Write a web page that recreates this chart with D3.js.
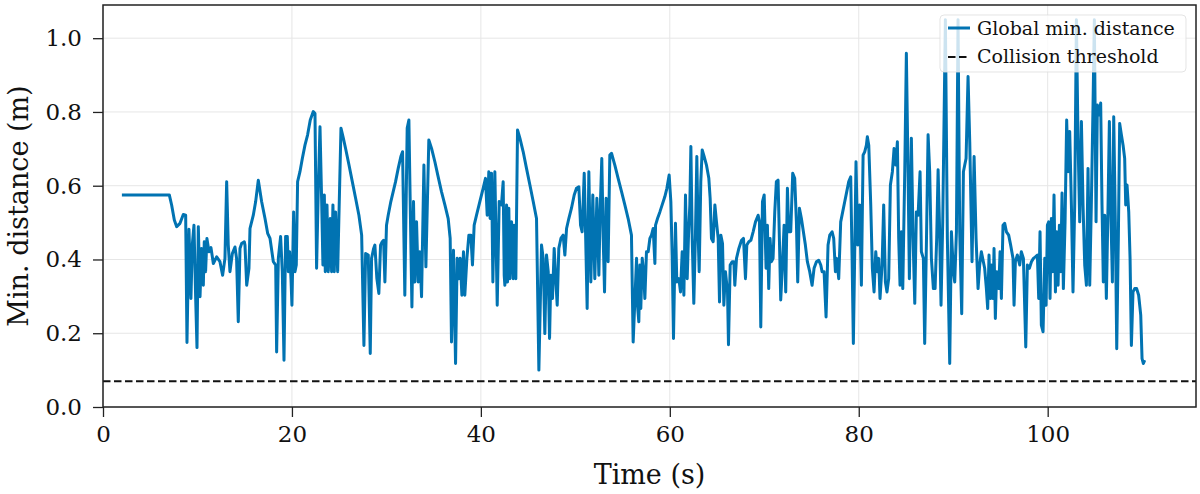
<!DOCTYPE html>
<html>
<head>
<meta charset="utf-8">
<script src="https://cdn.jsdelivr.net/npm/d3@7"></script>
<style>
  body { margin: 0; background: #fff; }
  svg { display: block; }
  text { font-family: "DejaVu Serif", serif; fill: #111; }
</style>
</head>
<body>
<div id="chart"></div>
<script>
// time stamps (s) and global minimum distance (m)
var times = [
  2.0, 7.02, 7.27, 7.55, 7.8, 8.15, 8.5, 8.75, 8.89, 9.1, 9.31, 9.45, 9.63, 9.81, 9.95, 10.09, 10.27, 10.44, 10.62, 10.72,
  10.86, 11.0, 11.22, 11.43, 11.68, 12.03, 12.38, 12.66, 12.91, 13.09, 13.26, 13.44, 13.69, 13.97, 14.14, 14.32, 14.5, 14.67, 14.96,
  15.03, 15.21, 15.45, 15.56, 15.91, 16.16, 16.44, 16.79, 17.15, 17.43, 17.68, 18.03, 18.28, 18.38, 18.56, 18.8, 18.98, 19.16,
  19.33, 19.51, 19.62, 19.76, 19.9, 20.0, 20.18, 20.32, 20.46, 20.6, 20.85, 21.1, 21.38, 21.66, 21.94, 22.26, 22.44, 22.61,
  22.79, 22.97, 23.14, 23.28, 23.43, 23.53, 23.71, 23.85, 24.06, 24.2, 24.34, 24.48, 24.62, 24.84, 25.19, 25.44, 25.68, 26.04,
  26.39, 26.74, 27.09, 27.38, 27.62, 27.8, 28.08, 28.29, 28.43, 28.65,
  28.78, 28.99, 29.2, 29.38, 29.56, 29.7, 29.84, 30.01, 30.19, 30.47, 30.72, 30.97, 31.25, 31.53, 31.71, 31.95, 32.2, 32.38,
  32.59, 32.7, 32.87, 33.01, 33.19, 33.37, 33.54, 33.72, 33.97, 34.18, 34.49, 34.78, 35.13, 35.48, 35.83, 36.19, 36.54, 36.75,
  36.89, 37.1, 37.32, 37.49, 37.67, 37.81, 37.99, 38.16, 38.3, 38.52, 38.73, 38.94, 39.11, 39.29, 39.54, 39.89, 40.24, 40.49,
  40.67, 40.84, 40.98, 41.13, 41.27, 41.48, 41.73, 41.94, 42.18, 42.36, 42.47,
  42.54, 42.72, 42.82, 42.96, 43.07, 43.25, 43.42, 43.53, 43.7, 43.88, 44.13, 44.48, 44.83, 45.19, 45.54, 45.89, 46.14, 46.42,
  46.6, 46.77, 46.95, 47.13, 47.27, 47.41, 47.58, 47.76, 47.94, 48.08, 48.25, 48.47, 48.71, 48.89, 49.07, 49.31, 49.59, 49.88,
  50.12, 50.37, 50.55, 50.72, 50.94, 51.08, 51.25, 51.43, 51.64, 51.85, 52.06, 52.28, 52.49, 52.63, 52.8, 52.95, 53.09, 53.26,
  53.47, 53.65, 53.83, 54.18, 54.53, 54.89, 55.24, 55.59, 55.94, 56.12,
  56.48, 56.58, 56.72, 56.83, 56.93, 57.08, 57.22, 57.36, 57.53, 57.71, 57.89, 58.06, 58.24, 58.42, 58.49, 58.7, 58.95, 59.19,
  59.47, 59.69, 59.93, 60.11, 60.25, 60.39, 60.6, 60.74, 60.96, 61.13, 61.31, 61.49, 61.66, 61.84, 61.98, 62.12, 62.23, 62.37,
  62.54, 62.72, 62.86, 63.0, 63.11, 63.28, 63.43, 63.64, 63.88, 64.13, 64.27, 64.41, 64.59, 64.77, 64.94, 65.12, 65.26, 65.4,
  65.58, 65.72, 65.89, 66.11, 66.21, 66.39, 66.6, 66.78, 66.88, 67.06, 67.31, 67.59, 67.8, 68.01, 68.15, 68.36, 68.58, 68.82,
  69.07, 69.35, 69.49, 69.63, 69.81, 69.99,
  70.19, 70.33, 70.47, 70.61, 70.76, 70.93, 71.11, 71.28, 71.46, 71.6, 71.74, 71.92, 72.1, 72.27, 72.45, 72.59, 72.8, 73.01,
  73.22, 73.4, 73.54, 73.72, 73.93, 74.14, 74.35, 74.56, 74.81, 75.06, 75.27, 75.52, 75.76, 75.98, 76.12, 76.33, 76.54, 76.75,
  76.93, 77.18, 77.35, 77.53, 77.67, 77.88, 78.09, 78.3, 78.52, 78.73, 78.94, 79.15, 79.29, 79.43, 79.57, 79.71, 79.89, 80.1,
  80.28, 80.46, 80.63, 80.81, 80.91, 81.06, 81.27, 81.44, 81.62, 81.8, 81.97, 82.11, 82.25, 82.47, 82.64, 82.82, 82.99, 83.17,
  83.35, 83.56, 83.74,
  83.92, 84.09, 84.23, 84.37, 84.52, 84.66, 84.87, 85.04, 85.22, 85.36, 85.57, 85.75, 85.93, 86.1, 86.28, 86.49, 86.63, 86.84,
  86.98, 87.16, 87.34, 87.51, 87.69, 87.9, 88.08, 88.25, 88.4, 88.54, 88.71, 88.89, 89.17, 89.38, 89.63, 89.81, 90.02, 90.16,
  90.34, 90.51, 90.69, 90.9, 91.08, 91.22, 91.36, 91.57, 91.75, 91.99, 92.21, 92.42, 92.63, 92.8, 92.98, 93.19, 93.33, 93.51,
  93.65, 93.79, 93.93, 94.07, 94.22, 94.32, 94.46, 94.6, 94.82, 94.96, 95.1, 95.27, 95.45, 95.63, 95.87, 96.08, 96.33, 96.44,
  96.58, 96.79, 97.04, 97.21, 97.43,
  97.68, 97.85, 98.06, 98.28, 98.49, 98.7, 98.91, 99.05, 99.19, 99.33, 99.51, 99.69, 99.83, 99.97, 100.11, 100.25, 100.39,
  100.53, 100.67, 100.82, 100.96, 101.1, 101.24, 101.38, 101.52, 101.66, 101.84, 102.01, 102.16, 102.33, 102.51, 102.68,
  102.86, 103.04, 103.21, 103.39, 103.57, 103.74, 103.92, 104.1, 104.27, 104.45, 104.62, 104.8, 104.94, 105.12, 105.26,
  105.47, 105.61, 105.75, 105.89, 106.04, 106.21, 106.39, 106.53, 106.67, 106.85, 106.99, 107.16, 107.31, 107.48, 107.62,
  107.8, 107.98, 108.15, 108.26, 108.4, 108.58, 108.72, 108.86, 109.03, 109.21, 109.42, 109.63, 109.85, 109.99, 110.13, 110.27
];
var minDist = [
  0.575, 0.575, 0.547, 0.507, 0.489, 0.498, 0.522, 0.52, 0.175, 0.482, 0.294, 0.439, 0.493, 0.294, 0.161, 0.489, 0.299, 0.43, 0.33, 0.448,
  0.367, 0.457, 0.421, 0.432, 0.389, 0.407, 0.394, 0.357, 0.403, 0.611, 0.439, 0.367, 0.416, 0.434, 0.403, 0.231, 0.43, 0.443, 0.448,
  0.439, 0.33, 0.376, 0.484, 0.52, 0.557, 0.615, 0.557, 0.511, 0.471, 0.457, 0.394, 0.385, 0.149, 0.403, 0.462, 0.367, 0.127,
  0.462, 0.462, 0.367, 0.421, 0.348, 0.276, 0.529, 0.367, 0.385, 0.611, 0.638, 0.674, 0.71, 0.738, 0.778, 0.801, 0.796, 0.376,
  0.593, 0.76, 0.566, 0.385, 0.575, 0.367, 0.548, 0.367, 0.511, 0.367, 0.548, 0.367, 0.529, 0.367, 0.756, 0.729, 0.701, 0.656,
  0.611, 0.566, 0.52, 0.466, 0.167, 0.416, 0.412, 0.145, 0.403, 0.43,
  0.439, 0.348, 0.308, 0.439, 0.448, 0.452, 0.339, 0.493, 0.52, 0.557, 0.584, 0.611, 0.647, 0.679, 0.692, 0.303, 0.756, 0.778,
  0.439, 0.271, 0.557, 0.339, 0.502, 0.339, 0.421, 0.299, 0.656, 0.38, 0.724, 0.701, 0.665, 0.624, 0.584, 0.548, 0.511, 0.457,
  0.176, 0.425, 0.118, 0.403, 0.348, 0.403, 0.303, 0.421, 0.303, 0.403, 0.466, 0.466, 0.385, 0.493, 0.52, 0.557, 0.593, 0.62,
  0.52, 0.638, 0.511, 0.634, 0.339, 0.638, 0.276, 0.557, 0.548, 0.611, 0.357,
  0.33, 0.548, 0.339, 0.539, 0.348, 0.502, 0.348, 0.493, 0.348, 0.751, 0.729, 0.692, 0.647, 0.602, 0.557, 0.511, 0.1, 0.439,
  0.403, 0.199, 0.412, 0.367, 0.186, 0.357, 0.294, 0.43, 0.339, 0.276, 0.43, 0.457, 0.466, 0.412, 0.484, 0.511, 0.539, 0.575,
  0.593, 0.597, 0.493, 0.475, 0.634, 0.475, 0.267, 0.638, 0.339, 0.575, 0.348, 0.566, 0.357, 0.534, 0.674, 0.457, 0.312, 0.566,
  0.394, 0.683, 0.688, 0.656, 0.62, 0.584, 0.548, 0.511, 0.466, 0.176,
  0.403, 0.276, 0.231, 0.385, 0.267, 0.403, 0.367, 0.294, 0.421, 0.421, 0.457, 0.466, 0.484, 0.389, 0.493, 0.511, 0.529, 0.548,
  0.57, 0.593, 0.629, 0.557, 0.412, 0.186, 0.498, 0.339, 0.348, 0.312, 0.421, 0.303, 0.575, 0.348, 0.466, 0.548, 0.706, 0.457,
  0.281, 0.475, 0.679, 0.466, 0.367, 0.611, 0.697, 0.679, 0.656, 0.62, 0.566, 0.457, 0.448, 0.548, 0.502, 0.457, 0.285, 0.466,
  0.443, 0.276, 0.367, 0.312, 0.169, 0.385, 0.394, 0.394, 0.33, 0.403, 0.43, 0.452, 0.457, 0.348, 0.439, 0.448, 0.452, 0.475,
  0.502, 0.52, 0.502, 0.217, 0.557, 0.575,
  0.376, 0.493, 0.321, 0.457, 0.394, 0.403, 0.529, 0.611, 0.615, 0.457, 0.29, 0.385, 0.493, 0.312, 0.593, 0.475, 0.475, 0.634,
  0.62, 0.502, 0.339, 0.539, 0.511, 0.475, 0.439, 0.394, 0.367, 0.33, 0.376, 0.394, 0.398, 0.385, 0.367, 0.367, 0.244, 0.439,
  0.466, 0.475, 0.457, 0.367, 0.403, 0.348, 0.502, 0.529, 0.557, 0.584, 0.611, 0.624, 0.412, 0.172, 0.412, 0.665, 0.439, 0.548,
  0.33, 0.683, 0.692, 0.71, 0.733, 0.71, 0.548, 0.376, 0.312, 0.421, 0.367, 0.403, 0.294, 0.385, 0.548, 0.339, 0.312, 0.348,
  0.602, 0.638, 0.701,
  0.656, 0.719, 0.457, 0.33, 0.475, 0.321, 0.638, 0.959, 0.638, 0.348, 0.729, 0.457, 0.281, 0.529, 0.52, 0.638, 0.421, 0.403,
  0.172, 0.439, 0.738, 0.638, 0.403, 0.321, 0.321, 0.457, 0.643, 0.502, 0.276, 0.502, 1.05, 0.457, 0.118, 0.475, 0.367, 0.339,
  0.475, 1.05, 0.475, 0.253, 0.638, 0.656, 0.674, 0.896, 0.719, 0.394, 0.679, 0.457, 0.321, 0.385, 0.421, 0.394, 0.376, 0.321,
  0.267, 0.412, 0.294, 0.385, 0.294, 0.43, 0.24, 0.367, 0.321, 0.421, 0.294, 0.493, 0.498, 0.475, 0.466, 0.439, 0.403, 0.276,
  0.394, 0.412, 0.385, 0.421, 0.403,
  0.163, 0.385, 0.376, 0.394, 0.403, 0.407, 0.412, 0.294, 0.475, 0.222, 0.204, 0.403, 0.276, 0.493, 0.502, 0.294, 0.511,
  0.367, 0.575, 0.312, 0.475, 0.33, 0.493, 0.367, 0.58, 0.321, 0.502, 0.778, 0.638, 0.747, 0.548, 0.312,
  0.548, 1.05, 0.729, 0.502, 0.774, 0.548, 0.385, 0.33, 0.647, 0.33, 0.548, 0.819, 1.05, 0.502, 0.819,
  0.792, 0.824, 0.548, 0.339, 0.52, 0.294, 0.548, 0.774, 0.548, 0.339, 0.787, 0.502, 0.158, 0.457, 0.769,
  0.738, 0.71, 0.674, 0.548, 0.602, 0.529, 0.403, 0.167, 0.312, 0.321, 0.321, 0.303, 0.249, 0.131, 0.118, 0.127
];
var threshold = 0.07;
var xTicks = [0, 20, 40, 60, 80, 100];
var yTicks = [0.0, 0.2, 0.4, 0.6, 0.8, 1.0];
var seriesNames = ["Global min. distance", "Collision threshold"];

var W = 1200, H = 494;
var margin = { top: 5, right: 4, bottom: 87, left: 103 },
    width = W - margin.left - margin.right,
    height = H - margin.top - margin.bottom;

var svg = d3.select("#chart")
    .append("svg")
    .attr("width", W)
    .attr("height", H)
    .append("g")
    .attr("transform", "translate(" + margin.left + "," + margin.top + ")");

var x = d3.scaleLinear().domain([0, 115.7]).range([0, width]);
var y = d3.scaleLinear().domain([0, 1.09]).range([height, 0]);

// grid
svg.append("g").selectAll("line")
    .data(xTicks).enter().append("line")
    .attr("x1", function (d) { return x(d); })
    .attr("x2", function (d) { return x(d); })
    .attr("y1", 0).attr("y2", height)
    .attr("stroke", "#e6e6e6").attr("stroke-width", 1);
svg.append("g").selectAll("line")
    .data(yTicks).enter().append("line")
    .attr("x1", 0).attr("x2", width)
    .attr("y1", function (d) { return y(d); })
    .attr("y2", function (d) { return y(d); })
    .attr("stroke", "#e6e6e6").attr("stroke-width", 1);

// threshold
svg.append("line")
    .attr("x1", 0).attr("x2", width)
    .attr("y1", y(threshold)).attr("y2", y(threshold))
    .attr("stroke", "#111").attr("stroke-width", 2)
    .attr("stroke-dasharray", "7.5,3.5");

// main series
var data = times.map(function (t, i) { return [t, minDist[i]]; });
var line = d3.line()
    .x(function (d) { return x(d[0]); })
    .y(function (d) { return y(d[1]); });
svg.append("path")
    .datum(data)
    .attr("d", line)
    .attr("fill", "none")
    .attr("stroke", "#0173b2")
    .attr("stroke-width", 3)
    .attr("stroke-linejoin", "round");

// axes
var xAxis = svg.append("g")
    .attr("transform", "translate(0," + height + ")")
    .call(d3.axisBottom(x).tickValues(xTicks).tickSize(10).tickPadding(9)
        .tickFormat(d3.format("d")));
var yAxis = svg.append("g")
    .call(d3.axisLeft(y).tickValues(yTicks).tickSize(10).tickPadding(11)
        .tickFormat(d3.format(".1f")));
[xAxis, yAxis].forEach(function (a) {
    a.select(".domain").remove();
    a.selectAll(".tick line").attr("stroke", "#222").attr("stroke-width", 1.3);
    a.selectAll(".tick text")
        .attr("font-family", "DejaVu Serif")
        .attr("font-size", 23)
        .attr("fill", "#111");
});

// frame
svg.append("rect")
    .attr("x", 0).attr("y", 0)
    .attr("width", width).attr("height", height)
    .attr("fill", "none")
    .attr("stroke", "#222").attr("stroke-width", 1.5);

// axis labels
svg.append("text")
    .attr("x", width / 2)
    .attr("y", height + 77)
    .attr("text-anchor", "middle")
    .attr("font-size", 27)
    .text("Time (s)");
svg.append("text")
    .attr("transform", "rotate(-90)")
    .attr("x", -height / 2)
    .attr("y", -75)
    .attr("text-anchor", "middle")
    .attr("font-size", 27)
    .text("Min. distance (m)");

// legend
var lg = svg.append("g").attr("transform", "translate(" + (width - 256) + ",10)");
lg.append("rect")
    .attr("width", 246).attr("height", 57).attr("rx", 4)
    .attr("fill", "#fff").attr("fill-opacity", 0.8)
    .attr("stroke", "#ddd").attr("stroke-opacity", 0.8);
lg.append("line")
    .attr("x1", 8).attr("x2", 30).attr("y1", 13).attr("y2", 13)
    .attr("stroke", "#0173b2").attr("stroke-width", 3);
lg.append("line")
    .attr("x1", 8).attr("x2", 30).attr("y1", 42).attr("y2", 42)
    .attr("stroke", "#111").attr("stroke-width", 2)
    .attr("stroke-dasharray", "7.5,3.5");
lg.selectAll("text.lab")
    .data(seriesNames).enter().append("text")
    .attr("class", "lab")
    .attr("x", 37)
    .attr("y", function (d, i) { return 19.5 + i * 28.5; })
    .attr("font-size", 19)
    .text(function (d) { return d; });
</script>
</body>
</html>
